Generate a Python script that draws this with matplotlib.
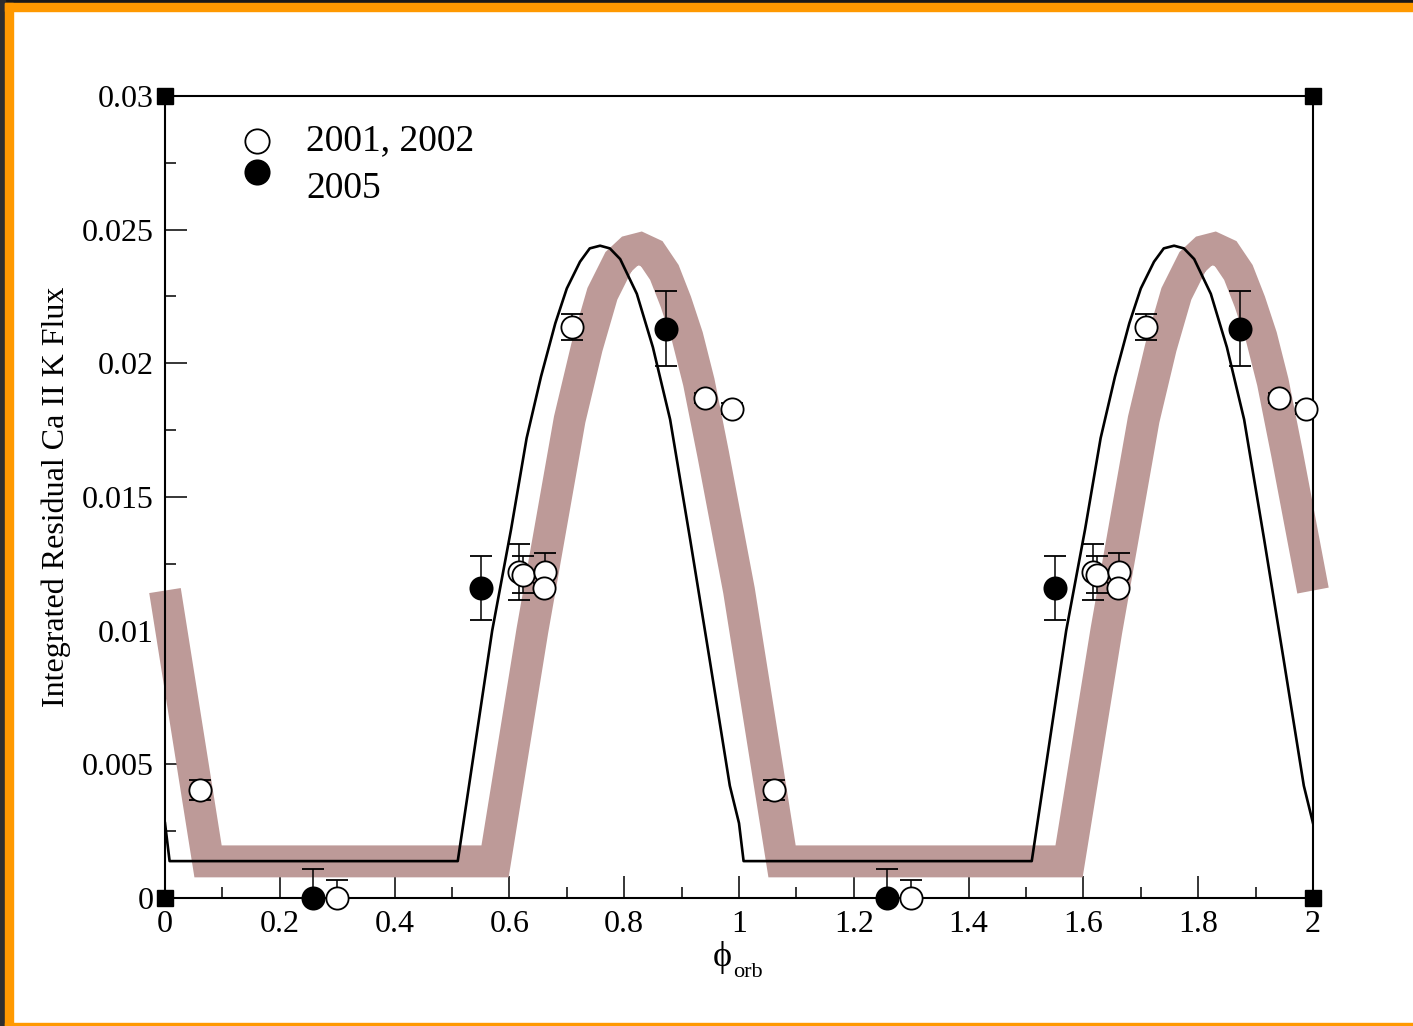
import matplotlib
matplotlib.use("Agg")
import matplotlib.pyplot as plt
from matplotlib.patches import Rectangle
from matplotlib.ticker import MultipleLocator, FuncFormatter

# ---------------- data ----------------
# 2001, 2002 (open symbols), phases within one orbit
open_phase = [0.061, 0.300, 0.617, 0.624, 0.662, 0.660, 0.709, 0.941, 0.988]
open_flux  = [0.00404, 0.0000, 0.0122, 0.0121, 0.0122, 0.0116, 0.02136, 0.0187, 0.0183]
open_err   = [0.00037, 0.00067, 0.00105, 0.0007, 0.0007, 0.0002, 0.0005, 0.0002, 0.0002]

# 2005 (filled symbols)
fill_phase = [0.258, 0.550, 0.873]
fill_flux  = [0.0000, 0.0116, 0.0213]
fill_err   = [0.0011, 0.0012, 0.0014]

# model curve (thin black line), one orbit
model_phase = [0.000, 0.008, 0.510, 0.570, 0.603, 0.630, 0.655, 0.680, 0.700, 0.723,
               0.740, 0.758, 0.775, 0.793, 0.822, 0.850, 0.880, 0.915, 0.949, 0.984, 1.000]
model_flux  = [0.0028, 0.00138, 0.00138, 0.0100, 0.0138, 0.0172, 0.0195, 0.0215, 0.0228, 0.0238,
               0.0243, 0.0244, 0.0243, 0.0239, 0.0226, 0.0206, 0.0179, 0.0134, 0.0089, 0.0042, 0.0028]

# shifted model (thick brown band), one orbit
band_phase = [0.000, 0.075, 0.575, 0.640, 0.705, 0.735, 0.762, 0.790, 0.810, 0.828,
              0.848, 0.870, 0.890, 0.910, 0.930, 0.955, 1.000]
band_flux  = [0.0115, 0.00137, 0.00137, 0.0100, 0.0179, 0.0206, 0.0226, 0.0238, 0.0242, 0.0243,
              0.0241, 0.0234, 0.0223, 0.0210, 0.0193, 0.0166, 0.0115]

x_ticks = [0, 0.2, 0.4, 0.6, 0.8, 1.0, 1.2, 1.4, 1.6, 1.8, 2.0]
y_ticks = [0, 0.005, 0.01, 0.015, 0.02, 0.025, 0.03]
legend_labels = ["2001, 2002", "2005"]
x_label_main, x_label_sub = "\u03d5", "orb"
y_label = "Integrated Residual Ca II K Flux"

# ---------------- figure ----------------
W, H, DPI = 1413, 1026, 100
fig = plt.figure(figsize=(W / DPI, H / DPI), dpi=DPI, facecolor="white")
serif = ["Liberation Serif", "DejaVu Serif"]

def frect(x0, y0, x1, y1, color):
    # pixel coordinates (top-left origin) -> figure fraction
    fig.patches.append(Rectangle((x0 / W, 1 - y1 / H), (x1 - x0) / W, (y1 - y0) / H,
                                 transform=fig.transFigure, color=color, zorder=0))

# slide frame
frect(0, 0, W, 3.3, "#1a1a1a")
frect(0, 0, 5, H, "#2e2e2e")
frect(5, 3.3, W, 10.5, "#ff9900")
frect(5, 3.3, 12.5, H, "#ff9900")
frect(5, 1023, W, H, "#ff9900")

L, R, T, B = 165, 1313, 96, 898
ax = fig.add_axes([L / W, 1 - B / H, (R - L) / W, (B - T) / H])
ax.set_facecolor("white")
ax.set_xlim(0, 2)
ax.set_ylim(0, 0.03)

# two orbits
def two(ph, v):
    return list(ph) + [p + 1 for p in ph], list(v) + list(v)

bx, by = two(band_phase, band_flux)
mx, my = two(model_phase, model_flux)
ax.plot(bx, by, color="#bd9a98", lw=23, solid_capstyle="butt",
        solid_joinstyle="miter", zorder=2, clip_on=False)
ax.plot(mx, my, color="black", lw=1.9, zorder=3)

ox, oy = two(open_phase, open_flux)
_, oe = two(open_phase, open_err)
fx, fy = two(fill_phase, fill_flux)
_, fe = two(fill_phase, fill_err)

eb_kw = dict(fmt="o", ms=16, mew=1.3, ecolor="black", elinewidth=1.1,
             capsize=8, capthick=1.1, zorder=5)
c1 = ax.errorbar(ox, oy, yerr=oe, mfc="white", mec="black", **eb_kw)
c2 = ax.errorbar(fx, fy, yerr=fe, mfc="black", mec="black", **eb_kw)
for c in (c1, c2):
    c[0].set_clip_on(False)

# legend drawn in axes coordinates
ax.plot([0.0801], [0.9439], "o", ms=17.5, mfc="white", mec="black", mew=1.3,
        transform=ax.transAxes, zorder=6)
ax.plot([0.0801], [0.9052], "o", ms=17.5, mfc="black", mec="black", mew=1.3,
        transform=ax.transAxes, zorder=6)
ax.text(0.1228, 0.9439, legend_labels[0], transform=ax.transAxes, fontsize=27,
        family=serif, va="center", ha="left")
ax.text(0.1228, 0.884, legend_labels[1], transform=ax.transAxes, fontsize=27,
        family=serif, va="center", ha="left")

# corner handles
for cx, cy in [(0, 0), (1, 0), (0, 1), (1, 1)]:
    ax.plot([cx], [cy], "s", ms=12, color="black", transform=ax.transAxes,
            clip_on=False, zorder=7)

# ticks
ax.set_xticks(x_ticks)
ax.set_yticks(y_ticks)
ax.xaxis.set_minor_locator(MultipleLocator(0.1))
ax.yaxis.set_minor_locator(MultipleLocator(0.0025))
fmt = FuncFormatter(lambda v, p: ("%g" % round(v, 6)))
ax.xaxis.set_major_formatter(fmt)
ax.yaxis.set_major_formatter(fmt)
ax.tick_params(which="both", direction="in", top=False, right=False, width=1.1,
               labelsize=23)
ax.tick_params(which="major", length=15.5)
ax.tick_params(which="minor", length=7.9)
ax.tick_params(axis="x", pad=9)
ax.tick_params(axis="y", pad=8)
for lab in ax.get_xticklabels() + ax.get_yticklabels():
    lab.set_family(serif)
for s in ax.spines.values():
    s.set_linewidth(1.5)

ax.set_ylabel(y_label, family=serif, fontsize=23)
ax.yaxis.set_label_coords(-0.082, 0.5)

# x label: phi with subscript "orb"
fig.text(722 / W, 1 - 958 / H, x_label_main, family=serif, fontsize=26,
         ha="center", va="center")
fig.text(733 / W, 1 - 977 / H, x_label_sub, family=serif, fontsize=16,
         ha="left", va="baseline")

fig.savefig("out.png", dpi=DPI, facecolor="white")
